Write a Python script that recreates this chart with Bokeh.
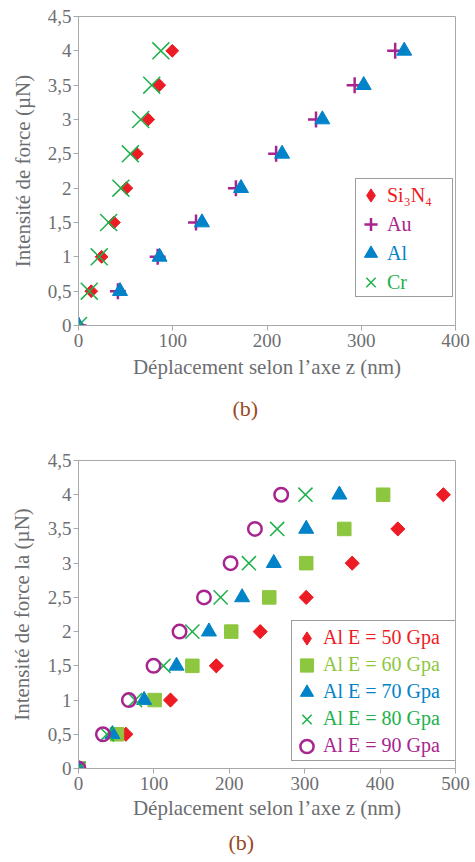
import numpy as np
from bokeh.plotting import figure
from bokeh.models import Legend, LegendItem, Title, Range1d, FixedTicker
from bokeh.layouts import column
from bokeh.embed import file_html
from bokeh.resources import INLINE

# ---------------- data ----------------
force = [0, 0.5, 1, 1.5, 2, 2.5, 3, 3.5, 4]

# top chart: displacement (nm) per material
si3n4 = [0, 13.5, 24.5, 37.6, 50.8, 62, 74, 85.7, 99.5]
au = [0, 41.8, 84, 124.7, 167, 209.7, 252, 293, 336]
al = [0, 44, 86, 131, 172.4, 216, 258.7, 302.6, 345.6]
cr = [0, 11.4, 22, 32, 45, 55, 66, 77.7, 87.4]
materials = ["Si₃N₄", "Au", "Al", "Cr"]

# bottom chart: displacement (nm) for Al with different E
e50 = [0, 62.8, 122, 182.8, 241, 302, 363, 423.5, 483.9]
e60 = [0, 51, 101, 151, 202.6, 253, 302, 352.5, 404]
e70 = [0, 45, 87, 130, 173, 217, 259, 302, 346]
e80 = [0, 37.7, 75, 112.7, 151, 188.5, 226, 263.5, 301]
e90 = [0, 32.4, 66.8, 99.5, 134, 166.4, 201.7, 234, 268.8]
e_labels = ["Al E = 50 Gpa", "Al E = 60 Gpa", "Al E = 70 Gpa", "Al E = 80 Gpa", "Al E = 90 Gpa"]

y_ticks = [0, 0.5, 1, 1.5, 2, 2.5, 3, 3.5, 4, 4.5]
y_tick_labels = ["0", "0,5", "1", "1,5", "2", "2,5", "3", "3,5", "4", "4,5"]
x_ticks_top = [0, 100, 200, 300, 400]
x_ticks_bottom = [0, 100, 200, 300, 400, 500]

x_title = "Déplacement selon l’axe z (nm)"
y_title_top = "Intensité de force (µN)"
y_title_bottom = "Intensité de force la (µN)"
caption = "(b)"

# ---------------- style ----------------
FONT = "Liberation Serif"
GRAY = "#6D6E71"
AXIS = "#A7A9AC"
RED = "#ED1C24"
MAGENTA = "#A8258F"
BLUE = "#0083C9"
GREEN = "#1DB14B"
LIME = "#8DC63F"
BROWN = "#9A4A22"


def style(p, xticks, ytitle, title_standoff, xtitle_standoff):
    p.xaxis.ticker = FixedTicker(ticks=xticks)
    p.yaxis.ticker = FixedTicker(ticks=y_ticks)
    p.yaxis.major_label_overrides = {
        (int(t) if float(t).is_integer() else t): l for t, l in zip(y_ticks, y_tick_labels)
    }
    p.xaxis.axis_label = x_title
    p.yaxis.axis_label = ytitle
    for ax in (p.xaxis, p.yaxis):
        ax.axis_line_color = AXIS
        ax.major_tick_line_color = AXIS
        ax.major_tick_out = 5
        ax.major_tick_in = 0
        ax.minor_tick_line_color = None
        ax.major_label_text_font = FONT
        ax.major_label_text_font_size = "19px"
        ax.major_label_text_color = GRAY
        ax.axis_label_text_font = FONT
        ax.axis_label_text_font_size = "21px"
        ax.axis_label_text_font_style = "normal"
        ax.axis_label_text_color = GRAY
    p.xaxis.major_label_standoff = 3
    p.yaxis.major_label_standoff = 2
    p.xaxis.axis_label_standoff = xtitle_standoff
    p.yaxis.axis_label_standoff = title_standoff
    p.xgrid.grid_line_color = None
    p.ygrid.grid_line_color = None
    p.outline_line_color = AXIS
    p.outline_line_width = 1
    p.background_fill_color = "white"
    p.border_fill_color = "white"


def colored_legend(p, renderers, labels, colors, x0, y0, pad, item_h, spacing, inner_w):
    """Boxed legend whose labels take the colour of their series."""
    n = len(labels)
    font = dict(label_text_font=FONT, label_text_font_size="20px")
    # the box: blank items pointing at empty renderers (nothing drawn inside)
    empties = [p.scatter(x=[], y=[], alpha=0) for _ in labels]
    frame = Legend(items=[LegendItem(label=" ", renderers=[r]) for r in empties],
                   location=(x0, y0), padding=pad, spacing=spacing, glyph_width=inner_w,
                   glyph_height=item_h, label_height=item_h, label_standoff=0, margin=0,
                   border_line_color="#3A3A3A", border_line_width=1.5,
                   background_fill_color="white", background_fill_alpha=1, **font)
    p.add_layout(frame)
    g = 34  # glyph box of each row legend (marker size = 0.4 * g)
    for i, (l, r, c) in enumerate(zip(labels, renderers, colors)):
        center = y0 + pad + (n - 1 - i) * (item_h + spacing) + item_h / 2
        lg = Legend(items=[LegendItem(label=l, renderers=[r])],
                    location=(x0 - 1, center - g / 2), padding=0, spacing=0,
                    glyph_width=g - 1, glyph_height=g, label_height=g, label_standoff=0,
                    margin=0, label_text_color=c, border_line_alpha=0,
                    background_fill_alpha=0, **font)
        p.add_layout(lg)


def add_caption(p, offset, standoff):
    p.add_layout(Title(text=caption, align="left", offset=offset, standoff=standoff,
                       text_font=FONT, text_font_size="22px", text_font_style="normal",
                       text_line_height=1.0, text_color=BROWN), "below")


# ---------------- top chart ----------------
p1 = figure(width=475, height=440, x_range=Range1d(0, 400), y_range=Range1d(0, 4.5),
            output_backend="svg", toolbar_location=None,
            min_border_left=73, min_border_right=16, min_border_top=16, min_border_bottom=115)
style(p1, x_ticks_top, y_title_top, 10, 5)

# legend-only diamond (legend glyphs ignore angle); hidden beneath the rotated squares
lg_si = p1.scatter(si3n4, force, marker="diamond", size=12, fill_color=RED, line_color=RED)
r_si = p1.scatter(si3n4, force, marker="square", angle=np.pi / 4, size=9,
                  fill_color=RED, line_color=RED)
r_au = p1.scatter(au, force, marker="cross", size=16, line_color=MAGENTA, line_width=2.5)
r_al = p1.scatter(al, force, marker="triangle", size=15, fill_color=BLUE, line_color=BLUE)
r_cr = p1.scatter(cr, force, marker="x", size=24, line_color=GREEN, line_width=1.5)

colored_legend(p1, [lg_si, r_au, r_al, r_cr], materials, [RED, MAGENTA, BLUE, GREEN],
               x0=277, y0=28, pad=2, item_h=26, spacing=3, inner_w=72)
add_caption(p1, 154, 24)

# ---------------- bottom chart ----------------
p2 = figure(width=475, height=422, x_range=Range1d(0, 500), y_range=Range1d(0, 4.5),
            output_backend="svg", toolbar_location=None,
            min_border_left=78, min_border_right=20, min_border_top=20, min_border_bottom=94)
style(p2, x_ticks_bottom, y_title_bottom, 11, 3)

lg50 = p2.scatter(e50, force, marker="diamond", size=13, fill_color=RED, line_color=RED)
r50 = p2.scatter(e50, force, marker="square", angle=np.pi / 4, size=10,
                 fill_color=RED, line_color=RED)
r60 = p2.scatter(e60, force, marker="square", size=13.5, fill_color=LIME, line_color=LIME)
r70 = p2.scatter(e70, force, marker="triangle", size=15, fill_color=BLUE, line_color=BLUE)
r80 = p2.scatter(e80, force, marker="x", size=20, line_color=GREEN, line_width=1.5)
r90 = p2.scatter(e90, force, marker="circle", size=13.5, fill_color=None,
                 line_color=MAGENTA, line_width=2.5)

colored_legend(p2, [lg50, r60, r70, r80, r90], e_labels, [RED, LIME, BLUE, GREEN, MAGENTA],
               x0=213, y0=7, pad=2, item_h=27, spacing=0, inner_w=147)
add_caption(p2, 150, 11)

layout = column(p1, p2, spacing=0)
open("out.html", "w").write(file_html(layout, INLINE))
